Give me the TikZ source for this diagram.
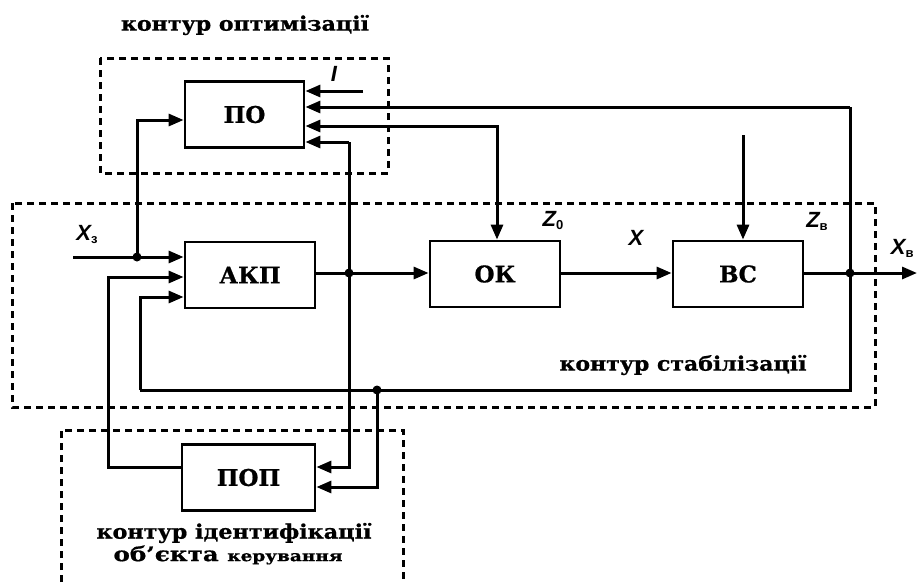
\documentclass[tikz,border=0pt]{standalone}
\usepackage{fontspec}
\usepackage{graphicx}
\setmainfont{DejaVu Serif}[BoldFeatures={FakeBold=0.8}]
\newfontfamily\lblfont{Liberation Sans}
\usetikzlibrary{arrows.meta,calc}
\newcommand{\fitw}[2]{\resizebox{#1}{\height}{#2}}
\newcommand{\subl}[1]{\raisebox{-3pt}{\normalfont\lblfont\bfseries\fontsize{13}{13}\selectfont #1}}
\begin{document}
\begin{tikzpicture}[x=1pt,y=-1pt,
  line width=3pt,
  arr/.style={-{Triangle[length=15pt,width=12pt]}},
  darr/.style={{Triangle[length=15pt,width=12pt]}-{Triangle[length=15pt,width=12pt]}},
  blk/.style={draw,line width=2.8pt,minimum height=66pt,inner sep=0pt,font=\bfseries\fontsize{23}{23}\selectfont},
  dbox/.style={draw,line width=3pt,dash pattern=on 7pt off 5pt},
  ctxt/.style={font=\bfseries\fontsize{20}{22}\selectfont,inner sep=0pt},
  var/.style={font=\lblfont\bfseries\itshape\fontsize{22}{22}\selectfont,inner sep=0pt},
  dot/.style={circle,fill,inner sep=0pt,minimum size=9pt}]
\useasboundingbox (0,0) rectangle (918,582);
% dashed contours
\draw[dbox] (100,58) rectangle (388,173);
\draw[dbox] (12,203) rectangle (875,407);
\draw[dbox] (61,582) -- (61,430) -- (403,430) -- (403,582);
% blocks
\node[blk,minimum width=119pt] (po) at (244.5,114.5) {ПО};
\node[blk,minimum width=130pt] (akp) at (250,275) {АКП};
\node[blk,minimum width=130pt] (ok) at (495,274) {ОК};
\node[blk,minimum width=130pt] (vs) at (738,274) {ВС};
\node[blk,minimum width=133pt] (pop) at (248.5,477.5) {ПОП};
% coordinates
\coordinate (xin) at (73,257);
\coordinate (j1) at (137,257);
\coordinate (ja) at (349,273);
\coordinate (jv) at (850,273);
\coordinate (jb) at (377,390);
\coordinate (iin) at (363,91);
\coordinate (vin) at (743,135);
\coordinate (xout) at (917,273);
\coordinate (ltop) at (850,107);
\coordinate (lbot) at (850,390);
\coordinate (lleft) at (140,390);
\coordinate (okc) at (497,126);
\coordinate (popl) at (108,467);
% connectors
\draw[arr] (xin) -- (akp.west |- xin);
\draw[arr] (j1) |- ($(po.west)+(0,5.5)$);
\draw[arr] (iin) -- (po.east |- iin);
\draw[arr] (ltop) -- (po.east |- ltop);
\draw (jv) -- (ltop);
\draw[darr] (po.east |- okc) -| (ok.north -| okc);
\draw[arr] ($(ja)+(0,-131)$) -- ($(po.east)+(0,27.5)$);
\draw (akp.east |- ja) -- (ja) -- ($(ja)+(0,-131)$);
\draw[arr] (ja) -- (ok.west |- ja);
\draw[arr] (ja) |- (pop.east |- 0,467);
\draw[arr] (ok.east |- ja) -- (vs.west |- ja);
\draw[arr] (vs.east |- jv) -- (xout);
\draw[arr] (vin) -- (vs.north -| vin);
\draw (jv) -- (lbot) -- (lleft);
\draw[arr] (lleft) |- (akp.west |- 0,297);
\draw[arr] (jb) |- (pop.east |- 0,487);
\draw[arr] (pop.west |- popl) -- (popl) |- (akp.west |- 0,277);
% junction dots
\foreach \p in {j1,ja,jv,jb} \node[dot] at (\p) {};
% labels
\node[ctxt] (t1) at (245,25) {\fitw{248pt}{контур оптимізації}};
\node[ctxt] (t2) at (683,365) {\fitw{247pt}{контур стабілізації}};
\node[ctxt] (t3) at (234,533) {\fitw{275pt}{контур ідентифікації}};
\node[ctxt] (t4) at (228,555) {\fitw{229pt}{об’єкта {\fontsize{15}{15}\selectfont керування}}};
\node[var] (li) at (334,74) {I};
\node[var] (lxz) at (87,234) {X\subl{з}};
\node[var] (lz0) at (553,220) {Z\subl{0}};
\node[var] (lx) at (636,238) {X};
\node[var] (lzv) at (817,221) {Z\subl{в}};
\node[var,anchor=east] (lxv) at (915,248) {X\subl{в}};
\end{tikzpicture}
\end{document}
